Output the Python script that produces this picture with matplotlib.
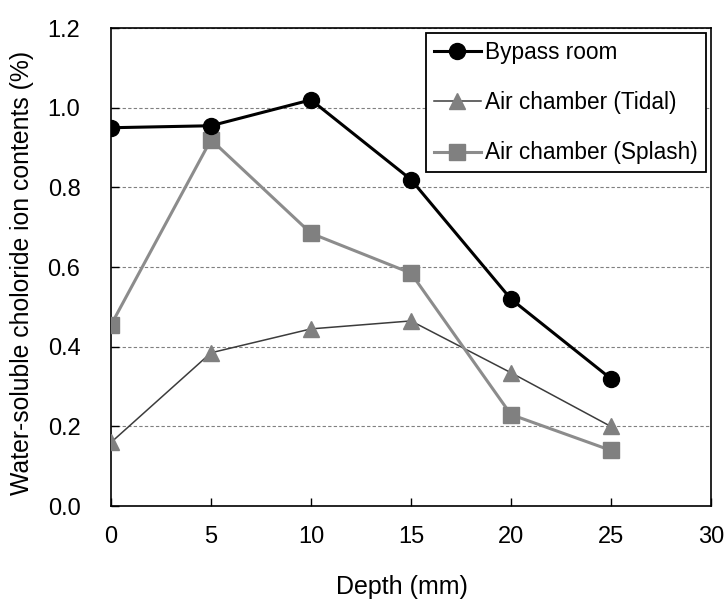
import matplotlib
matplotlib.use("Agg")
import matplotlib.pyplot as plt

plt.rcParams['font.family'] = ['Liberation Sans', 'DejaVu Sans']

depth = [0, 5, 10, 15, 20, 25]
bypass_room = [0.95, 0.955, 1.02, 0.82, 0.52, 0.32]
air_tidal = [0.16, 0.385, 0.445, 0.465, 0.335, 0.20]
air_splash = [0.455, 0.92, 0.685, 0.585, 0.23, 0.14]

fig = plt.figure(figsize=(7.28, 5.99), dpi=100)
ax = fig.add_axes([0.1525, 0.155, 0.824, 0.798])

ax.plot(depth, bypass_room, color='black', lw=2.2, marker='o', ms=11.5,
        markerfacecolor='black', markeredgecolor='black', label='Bypass room', zorder=4)
ax.plot(depth, air_tidal, color='#3c3c3c', lw=1.1, marker='^', ms=11.5,
        markerfacecolor='#808080', markeredgecolor='#808080', label='Air chamber (Tidal)', zorder=3)
ax.plot(depth, air_splash, color='#8c8c8c', lw=2.2, marker='s', ms=11,
        markerfacecolor='#808080', markeredgecolor='#808080', label='Air chamber (Splash)', zorder=3)

ax.set_xlim(0, 30)
ax.set_ylim(0, 1.2)
ax.set_xticks([0, 5, 10, 15, 20, 25, 30])
ax.set_yticks([0.0, 0.2, 0.4, 0.6, 0.8, 1.0, 1.2])
ax.set_yticklabels([f"{v:.1f}" for v in [0.0, 0.2, 0.4, 0.6, 0.8, 1.0, 1.2]])
ax.tick_params(direction='in', length=6, width=1, labelsize=17, colors='black')
ax.tick_params(axis='x', pad=14)
ax.tick_params(axis='y', pad=22)
ax.yaxis.grid(True, linestyle=(0, (3, 2)), color='#808080', lw=0.8)
ax.set_axisbelow(True)
for s in ax.spines.values():
    s.set_linewidth(1.2)
    s.set_color('black')

ax.set_xlabel('Depth (mm)', fontsize=18)
ax.xaxis.set_label_coords(0.485, -0.144)
ax.set_ylabel('Water-soluble choloride ion contents (%)', fontsize=17.8)
ax.yaxis.set_label_coords(-0.128, 0.487)

leg = ax.legend(loc='upper right', bbox_to_anchor=(0.9917, 0.9895), borderaxespad=0.0,
                fontsize=16.3, frameon=True, fancybox=False, edgecolor='black',
                framealpha=1, handlelength=2.1, labelspacing=1.2, borderpad=0.35,
                handletextpad=0.18)
leg.get_frame().set_linewidth(1.3)
leg.set_zorder(10)

fig.savefig('out.png', dpi=100)
